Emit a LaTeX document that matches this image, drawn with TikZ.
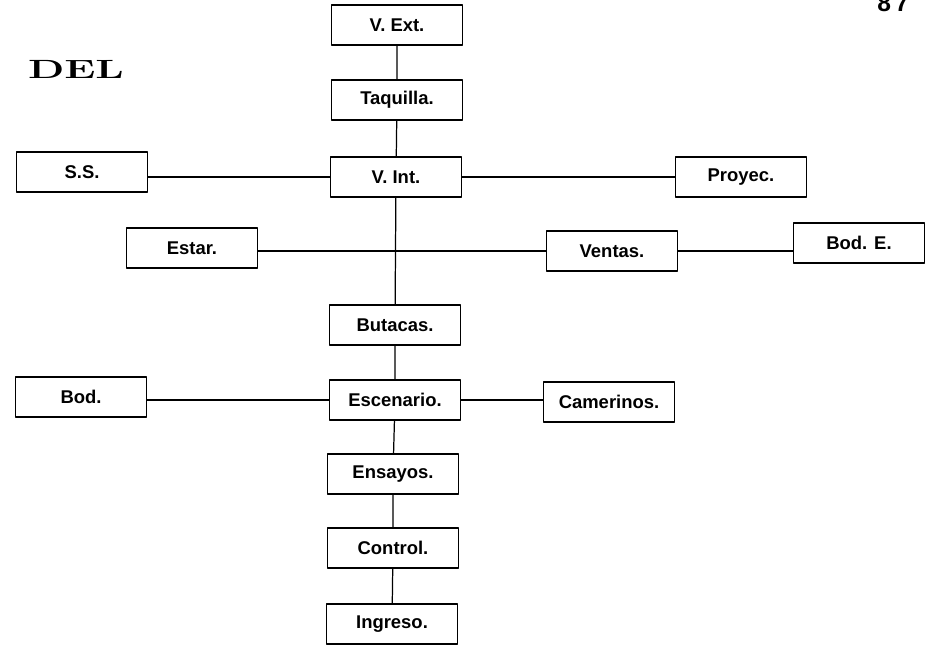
\documentclass[tikz,border=0pt]{standalone}
\usepackage{fontspec}
\setmainfont{Liberation Sans}
\newfontfamily\delfont{Latin Modern Roman}
\begin{document}
\begin{tikzpicture}[x=0.02cm,y=-0.02cm,line join=round,line cap=round,
    caja/.style={draw,line width=0.9pt,minimum width=2.62cm,minimum height=0.79cm,
        inner sep=0pt,font=\bfseries\fontsize{10.5}{12}\selectfont},
    linea/.style={line width=0.7pt}]
    \useasboundingbox (0,0) rectangle (934,649);
    % titulo y pagina
    \node (del) at (76,69) {\delfont\bfseries\fontsize{15}{18}\selectfont\scalebox{1.6}[1]{DEL}};
    \node (pag) at (893,3) {\bfseries\fontsize{14}{16}\selectfont 8\,7};
    % eje central
    \node[caja] (VE) at (397,25) {V. Ext.};
    \node[caja] (TQ) at (397,100) {Taquilla.};
    \node[caja] (VI) at (396,177) {V. Int.};
    \node[caja] (BU) at (395,325) {Butacas.};
    \node[caja] (ES) at (395,400) {Escenario.};
    \node[caja] (EN) at (393,474) {Ensayos.};
    \node[caja] (CO) at (393,548) {Control.};
    \node[caja] (IN) at (392,624) {Ingreso.};
    % ramas
    \node[caja] (SS) at (82,172) {S.S.};
    \node[caja] (PR) at (741,177) {Proyec.};
    \node[caja] (ET) at (192,248) {Estar.};
    \node[caja] (VT) at (612,251) {Ventas.};
    \node[caja] (BE) at (859,243) {Bod. E.};
    \node[caja] (BD) at (81,397) {Bod.};
    \node[caja] (CA) at (609,402) {Camerinos.};
    \draw[linea] (VE)--(TQ)--(VI)--(BU)--(ES)--(EN)--(CO)--(IN);
    \draw[linea] (VI.west)--(VI.west -| SS.east)
        (VI.east)--(VI.east -| PR.west);
    \draw[linea] (VT.west)--(VT.west -| ET.east)
        (VT.east)--(VT.east -| BE.west);
    \draw[linea] (ES.west)--(ES.west -| BD.east)
        (ES.east)--(ES.east -| CA.west);
\end{tikzpicture}
\end{document}
